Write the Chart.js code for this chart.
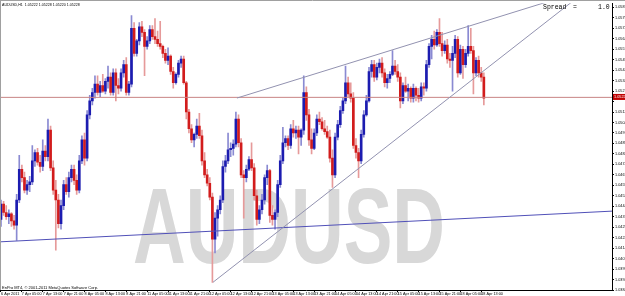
<!DOCTYPE html>
<html>
<head>
<meta charset="utf-8">
<script src="https://cdn.jsdelivr.net/npm/chart.js@4.4.0/dist/chart.umd.min.js"></script>
<style>
html, body { margin: 0; padding: 0; background: #fff; }
canvas { display: block; }
</style>
</head>
<body>
<canvas id="myChart" width="625" height="296"></canvas>
<script>
// AUDUSD H1 bars, 6 Apr 2011 21:00 -> 18 Apr 14:00 (one value per bar)
const open = [
  1.0435,1.0446,1.0440,1.0437,1.0439,1.0434,1.0431,1.0449,1.0471,1.0465,
  1.0456,1.0460,1.0462,1.0477,1.0483,1.0476,1.0473,1.0484,1.0480,1.0499,
  1.0472,1.0456,1.0449,1.0432,1.0445,1.0460,1.0455,1.0465,1.0471,1.0463,
  1.0456,1.0477,1.0492,1.0479,1.0510,1.0520,1.0526,1.0532,1.0526,1.0531,
  1.0527,1.0534,1.0537,1.0526,1.0540,1.0531,1.0529,1.0540,1.0546,1.0526,
  1.0532,1.0572,1.0554,1.0563,1.0573,1.0569,1.0559,1.0563,1.0571,1.0566,
  1.0564,1.0561,1.0559,1.0554,1.0549,1.0552,1.0541,1.0533,1.0539,1.0547,
  1.0550,1.0533,1.0512,1.0500,1.0492,1.0496,1.0502,1.0495,1.0477,1.0467,
  1.0461,1.0451,1.0421,1.0436,1.0442,1.0449,1.0473,1.0477,1.0485,1.0486,
  1.0489,1.0507,1.0490,1.0467,1.0465,1.0471,1.0478,1.0472,1.0452,1.0435,
  1.0442,1.0449,1.0465,1.0470,1.0438,1.0435,1.0440,1.0460,1.0477,1.0490,
  1.0493,1.0488,1.0500,1.0497,1.0499,1.0494,1.0499,1.0526,1.0510,1.0492,
  1.0486,1.0497,1.0507,1.0505,1.0500,1.0498,1.0494,1.0479,1.0467,1.0494,
  1.0503,1.0513,1.0520,1.0533,1.0525,1.0522,1.0488,1.0483,1.0477,1.0496,
  1.0510,1.0520,1.0541,1.0546,1.0537,1.0544,1.0547,1.0540,1.0533,1.0536,
  1.0539,1.0545,1.0541,1.0537,1.0520,1.0531,1.0527,1.0529,1.0522,1.0529,
  1.0524,1.0522,1.0530,1.0529,1.0546,1.0559,1.0564,1.0560,1.0569,1.0561,
  1.0556,1.0560,1.0550,1.0549,1.0554,1.0564,1.0540,1.0557,1.0546,1.0554,
  1.0559,1.0556,1.0540,1.0549,1.0540,1.0537
];
const high = [
  1.0449,1.0448,1.0445,1.0442,1.0440,1.0438,1.0453,1.0481,1.0474,1.0469,
  1.0463,1.0466,1.0488,1.0485,1.0486,1.0481,1.0492,1.0488,1.0507,1.0502,
  1.0477,1.0463,1.0453,1.0449,1.0463,1.0465,1.0469,1.0474,1.0474,1.0467,
  1.0481,1.0495,1.0497,1.0513,1.0524,1.0529,1.0538,1.0538,1.0534,1.0539,
  1.0536,1.0545,1.0540,1.0543,1.0543,1.0536,1.0543,1.0549,1.0551,1.0534,
  1.0581,1.0576,1.0564,1.0576,1.0577,1.0571,1.0566,1.0574,1.0574,1.0579,
  1.0570,1.0577,1.0560,1.0557,1.0558,1.0553,1.0544,1.0540,1.0549,1.0552,
  1.0552,1.0534,1.0514,1.0503,1.0497,1.0507,1.0511,1.0499,1.0483,1.0471,
  1.0465,1.0454,1.0440,1.0445,1.0452,1.0477,1.0481,1.0497,1.0490,1.0492,
  1.0512,1.0510,1.0493,1.0470,1.0474,1.0480,1.0490,1.0475,1.0456,1.0445,
  1.0453,1.0467,1.0474,1.0471,1.0445,1.0442,1.0463,1.0481,1.0501,1.0495,
  1.0495,1.0503,1.0506,1.0502,1.0502,1.0500,1.0538,1.0530,1.0514,1.0500,
  1.0500,1.0510,1.0512,1.0508,1.0506,1.0502,1.0499,1.0485,1.0497,1.0506,
  1.0516,1.0522,1.0545,1.0537,1.0533,1.0526,1.0493,1.0486,1.0499,1.0513,
  1.0524,1.0544,1.0549,1.0549,1.0547,1.0550,1.0551,1.0543,1.0539,1.0541,
  1.0556,1.0549,1.0546,1.0540,1.0533,1.0537,1.0532,1.0530,1.0532,1.0530,
  1.0529,1.0533,1.0533,1.0549,1.0561,1.0567,1.0570,1.0571,1.0579,1.0569,
  1.0563,1.0564,1.0554,1.0559,1.0567,1.0566,1.0560,1.0559,1.0557,1.0574,
  1.0572,1.0559,1.0551,1.0552,1.0544,1.0540
];
const low = [
  1.0430,1.0438,1.0435,1.0432,1.0430,1.0428,1.0420,1.0447,1.0462,1.0454,
  1.0453,1.0455,1.0460,1.0473,1.0474,1.0469,1.0470,1.0477,1.0477,1.0470,
  1.0453,1.0413,1.0429,1.0428,1.0442,1.0453,1.0451,1.0462,1.0460,1.0453,
  1.0454,1.0475,1.0474,1.0477,1.0507,1.0517,1.0522,1.0524,1.0523,1.0526,
  1.0525,1.0529,1.0524,1.0524,1.0520,1.0525,1.0527,1.0537,1.0524,1.0524,
  1.0530,1.0552,1.0552,1.0560,1.0566,1.0538,1.0557,1.0561,1.0564,1.0561,
  1.0559,1.0557,1.0551,1.0547,1.0546,1.0539,1.0529,1.0532,1.0537,1.0544,
  1.0532,1.0507,1.0497,1.0490,1.0487,1.0493,1.0493,1.0474,1.0465,1.0459,
  1.0449,1.0390,1.0411,1.0423,1.0439,1.0447,1.0469,1.0475,1.0480,1.0481,
  1.0487,1.0487,1.0465,1.0436,1.0462,1.0470,1.0470,1.0449,1.0431,1.0432,
  1.0439,1.0446,1.0460,1.0433,1.0431,1.0428,1.0437,1.0458,1.0475,1.0487,
  1.0485,1.0486,1.0494,1.0493,1.0482,1.0488,1.0496,1.0506,1.0488,1.0482,
  1.0485,1.0495,1.0503,1.0499,1.0496,1.0493,1.0476,1.0458,1.0465,1.0492,
  1.0501,1.0511,1.0518,1.0523,1.0519,1.0486,1.0479,1.0465,1.0475,1.0494,
  1.0509,1.0519,1.0537,1.0534,1.0535,1.0540,1.0537,1.0530,1.0529,1.0533,
  1.0538,1.0539,1.0534,1.0515,1.0518,1.0526,1.0520,1.0519,1.0519,1.0520,
  1.0519,1.0520,1.0524,1.0527,1.0544,1.0550,1.0557,1.0559,1.0559,1.0552,
  1.0554,1.0547,1.0544,1.0527,1.0551,1.0537,1.0539,1.0536,1.0544,1.0552,
  1.0554,1.0525,1.0538,1.0537,1.0534,1.0517
];
const close = [
  1.0446,1.0440,1.0437,1.0439,1.0434,1.0431,1.0449,1.0471,1.0465,1.0456,
  1.0460,1.0462,1.0477,1.0483,1.0476,1.0473,1.0484,1.0480,1.0499,1.0472,
  1.0456,1.0449,1.0432,1.0445,1.0460,1.0455,1.0465,1.0471,1.0463,1.0456,
  1.0477,1.0492,1.0479,1.0510,1.0520,1.0526,1.0532,1.0526,1.0531,1.0527,
  1.0534,1.0537,1.0526,1.0540,1.0531,1.0529,1.0540,1.0546,1.0526,1.0532,
  1.0572,1.0554,1.0563,1.0573,1.0569,1.0559,1.0563,1.0571,1.0566,1.0564,
  1.0561,1.0559,1.0554,1.0549,1.0552,1.0541,1.0533,1.0539,1.0547,1.0550,
  1.0533,1.0512,1.0500,1.0492,1.0496,1.0502,1.0495,1.0477,1.0467,1.0461,
  1.0451,1.0421,1.0436,1.0442,1.0449,1.0473,1.0477,1.0485,1.0486,1.0489,
  1.0507,1.0490,1.0467,1.0465,1.0471,1.0478,1.0472,1.0452,1.0435,1.0442,
  1.0449,1.0465,1.0470,1.0438,1.0435,1.0440,1.0460,1.0477,1.0490,1.0493,
  1.0488,1.0500,1.0497,1.0499,1.0494,1.0499,1.0526,1.0510,1.0492,1.0486,
  1.0497,1.0507,1.0505,1.0500,1.0498,1.0494,1.0479,1.0467,1.0494,1.0503,
  1.0513,1.0520,1.0533,1.0525,1.0522,1.0488,1.0483,1.0477,1.0496,1.0510,
  1.0520,1.0541,1.0546,1.0537,1.0544,1.0547,1.0540,1.0533,1.0536,1.0539,
  1.0545,1.0541,1.0537,1.0520,1.0531,1.0527,1.0529,1.0522,1.0529,1.0524,
  1.0522,1.0530,1.0529,1.0546,1.0559,1.0564,1.0560,1.0569,1.0561,1.0556,
  1.0560,1.0550,1.0549,1.0554,1.0564,1.0540,1.0557,1.0546,1.0554,1.0559,
  1.0556,1.0540,1.0549,1.0540,1.0537,1.0522
];

// time axis: one label every 8 bars
const timeLabels = ['6 Apr 2011','7 Apr 05:00','7 Apr 13:00','7 Apr 21:00','8 Apr 05:00','8 Apr 13:00',
  '8 Apr 21:00','11 Apr 05:00','11 Apr 13:00','11 Apr 21:00','12 Apr 05:00','12 Apr 13:00',
  '12 Apr 21:00','13 Apr 05:00','13 Apr 13:00','13 Apr 21:00','14 Apr 05:00','14 Apr 13:00',
  '14 Apr 21:00','15 Apr 05:00','15 Apr 13:00','15 Apr 21:00','18 Apr 05:00','18 Apr 13:00'];
const timeLabelBars = [0,8,16,24,32,40,48,56,64,72,80,88,96,104,112,120,128,136,144,152,160,168,176,184];

// price axis labels
const priceTicks = [1.05870,1.05795,1.05720,1.05645,1.05570,1.05495,1.05420,1.05345,1.05270,1.05195,
  1.05120,1.05045,1.04970,1.04895,1.04820,1.04745,1.04670,1.04595,1.04520,1.04445,
  1.04370,1.04295,1.04220,1.04145,1.04070,1.03995,1.03920,1.03845];

// objects drawn on the chart: [bar, price]
const upperTrend = [[90.4, 1.0522], [214.6, 1.0594]];
const lowerTrend = [[81.2, 1.0390], [218.8, 1.0591]];
const blueTrend = [[-0.4, 1.0419], [234.1, 1.0441]];
const hLinePrice = 1.05225;
const bidPrice = 1.05228;

const headerText = 'AUDUSD,H1  1.05222 1.05228 1.05220 1.05228';
const copyText = 'EnPro MT4, \u00a9 2001-2011 MetaQuotes Software Corp.';
const symbolText = 'AUDUSD';

const xMin = -0.38, xMax = 234.1;
const yMin = 1.03845, yMax = 1.05899;

const bars = close.map((c, i) => i);
const up = bars.map(i => close[i] >= open[i]);

// watermark behind the candles
const watermark = {
    id: 'watermark',
    beforeDatasetsDraw(chart) {
        const ctx = chart.ctx;
        ctx.save();
        ctx.font = 'bold 108px "Liberation Sans", Arial, sans-serif';
        const w = ctx.measureText(symbolText).width;
        ctx.translate(133, 263);
        ctx.scale(312 / w, 1);
        ctx.fillStyle = '#d8d8d8';
        ctx.textBaseline = 'alphabetic';
        ctx.fillText(symbolText, 0, 0);
        ctx.restore();
    }
};

// texts, bid label, window frame
const overlay = {
    id: 'overlay',
    afterDraw(chart) {
        const ctx = chart.ctx;
        const y = chart.scales.y;
        ctx.save();
        ctx.strokeStyle = '#a0a0a0';
        ctx.lineWidth = 1;
        ctx.beginPath();
        ctx.moveTo(0, 0.5); ctx.lineTo(625, 0.5);
        ctx.moveTo(0.5, 0); ctx.lineTo(0.5, 290);
        ctx.stroke();

        ctx.fillStyle = '#000';
        ctx.textBaseline = 'alphabetic';
        ctx.font = '3.6px "Liberation Sans", Arial, sans-serif';
        ctx.fillText(headerText, 2, 6);
        ctx.font = '4px "Liberation Sans", Arial, sans-serif';
        ctx.fillText(copyText, 2, 289);

        ctx.font = '6.5px "Liberation Mono", monospace';
        ctx.fillText('Spread', 543, 9);
        ctx.fillText('=', 573, 9);
        ctx.fillText('1.0', 598, 9);

        const py = y.getPixelForValue(bidPrice);
        ctx.fillStyle = '#c00000';
        ctx.fillRect(613, py - 3, 12, 6);
        ctx.fillStyle = '#fff';
        ctx.font = '3.8px "Liberation Sans", Arial, sans-serif';
        ctx.textBaseline = 'middle';
        ctx.fillText(bidPrice.toFixed(5), 614, py + 0.3);
        ctx.restore();
    }
};

const lineSet = (pts, color, width) => ({
    type: 'line',
    data: pts.map(p => ({ x: p[0], y: p[1] })),
    borderColor: color,
    borderWidth: width,
    pointRadius: 0,
    fill: false,
    order: 0
});

const ctx = document.getElementById('myChart').getContext('2d');
const myChart = new Chart(ctx, {
    type: 'bar',
    data: {
        datasets: [
            lineSet(upperTrend, '#9292b0', 1),
            lineSet(lowerTrend, '#9292b0', 1),
            lineSet(blueTrend, '#5050b8', 1),
            lineSet([[xMin, hLinePrice], [xMax, hLinePrice]], '#c88484', 1),
            {
                // candle bodies
                data: bars.map(i => ({ x: i, y: [open[i], close[i]] })),
                backgroundColor: bars.map(i => up[i] ? '#1c1cb0' : '#d21c1c'),
                barThickness: 2,
                grouped: false,
                minBarLength: 1,
                order: 1
            },
            {
                // wicks
                data: bars.map(i => ({ x: i, y: [low[i], high[i]] })),
                backgroundColor: bars.map(i => up[i] ? '#8a8ad2' : '#e69a9a'),
                barThickness: 1,
                grouped: false,
                order: 2
            }
        ]
    },
    options: {
        responsive: false,
        animation: false,
        layout: { padding: { top: 2, left: 0, right: 0, bottom: 0 }, autoPadding: false },
        plugins: { legend: { display: false }, tooltip: { enabled: false } },
        scales: {
            x: {
                type: 'linear',
                min: xMin,
                max: xMax,
                bounds: 'data',
                offset: false,
                grid: { display: true, offset: false, drawOnChartArea: false, drawTicks: true, tickLength: 2, color: '#000' },
                border: { display: true, color: '#000' },
                ticks: {
                    autoSkip: false, maxRotation: 0, minRotation: 0, align: 'start', padding: 0,
                    color: '#000', font: { size: 3.8, family: 'Liberation Sans' },
                    callback: (v, i) => timeLabels[i]
                },
                afterBuildTicks: s => { s.ticks = timeLabelBars.map(v => ({ value: v })); },
                afterFit: s => { s.height = 6; }
            },
            y: {
                position: 'right',
                min: yMin,
                max: yMax,
                bounds: 'data',
                grid: { display: true, drawOnChartArea: false, drawTicks: true, tickLength: 2, color: '#000' },
                border: { display: true, color: '#000' },
                ticks: {
                    padding: 1, color: '#000', font: { size: 3.8, family: 'Liberation Sans' },
                    callback: v => Math.abs(v - bidPrice) < 0.0004 ? '' : v.toFixed(5)
                },
                afterBuildTicks: s => { s.ticks = priceTicks.map(v => ({ value: v })); },
                afterFit: s => { s.width = 13; }
            }
        }
    },
    plugins: [watermark, overlay]
});
</script>
</body>
</html>
